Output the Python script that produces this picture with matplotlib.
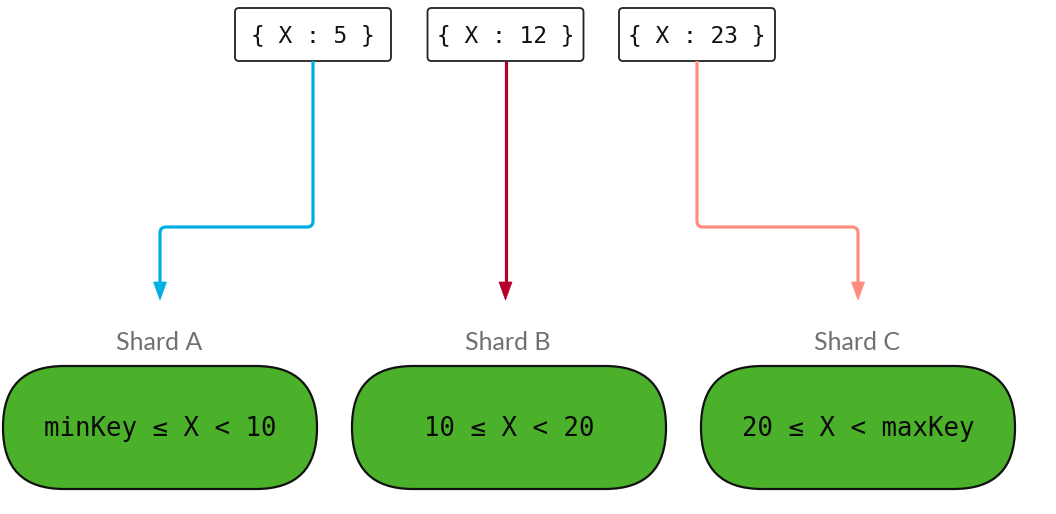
import matplotlib.pyplot as plt
from matplotlib.patches import FancyBboxPatch, Polygon, PathPatch
from matplotlib.path import Path

# Documents being routed
doc_keys = [5, 12, 23]
doc_labels = ['{ X : %d }' % k for k in doc_keys]
arrow_colors = ['#00aee6', '#b3002b', '#ff8c7e']

# Shards and their key ranges
shard_names = ['Shard A', 'Shard B', 'Shard C']
shard_ranges = ['minKey \u2264 X < 10', '10 \u2264 X < 20', '20 \u2264 X < maxKey']
target_shard = [0, 1, 2]

W, H = 1056, 514

# Layout (pixels)
box_cx = [313, 505.5, 697]
box_w, box_top, box_bot = 156, 8, 61
shard_cx = [160, 509, 858]
pill_w, pill_top, pill_bot = 314, 366, 489
elbow_y = 227
tip_y = 300
head_len, head_half = 18, 6.5
label_y = 342
corner_r = 6

fig = plt.figure(figsize=(W / 100, H / 100), dpi=100)
ax = fig.add_axes([0, 0, 1, 1])
ax.set_xlim(0, W)
ax.set_ylim(H, 0)
ax.axis('off')

# top document boxes
for cx, text in zip(box_cx, doc_labels):
    ax.add_patch(FancyBboxPatch((cx - box_w / 2, box_top), box_w, box_bot - box_top,
                                boxstyle='round,pad=0,rounding_size=4',
                                fc='white', ec='#222222', lw=1.3))
    ax.text(cx, (box_top + box_bot) / 2 + 1, text, family='DejaVu Sans Mono',
            fontsize=16.5, ha='center', va='center', color='#111111')

# routing arrows
for cx, si, col in zip(box_cx, target_shard, arrow_colors):
    tx = shard_cx[si]
    end_y = tip_y - head_len + 2
    if abs(tx - cx) < 10:
        tx = cx
        path = Path([(cx, box_bot), (cx, end_y)], [Path.MOVETO, Path.LINETO])
    else:
        d = corner_r if tx > cx else -corner_r
        verts = [(cx, box_bot), (cx, elbow_y - corner_r),
                 (cx, elbow_y), (cx + d, elbow_y),
                 (tx - d, elbow_y),
                 (tx, elbow_y), (tx, elbow_y + corner_r),
                 (tx, end_y)]
        codes = [Path.MOVETO, Path.LINETO, Path.CURVE3, Path.CURVE3, Path.LINETO,
                 Path.CURVE3, Path.CURVE3, Path.LINETO]
        path = Path(verts, codes)
    ax.add_patch(PathPatch(path, fill=False, ec=col, lw=2.3, capstyle='butt'))
    ax.add_patch(Polygon([(tx - head_half, tip_y - head_len), (tx + head_half, tip_y - head_len),
                          (tx, tip_y)], closed=True, fc=col, ec=col, lw=0.5))

# shards
for cx, name, rng in zip(shard_cx, shard_names, shard_ranges):
    ax.text(cx - 1, label_y, name, family='Lato', fontsize=18, ha='center', va='center',
            color='#707070')
    ax.add_patch(FancyBboxPatch((cx - pill_w / 2, pill_top), pill_w, pill_bot - pill_top,
                                boxstyle='round,pad=0,rounding_size=61',
                                fc='#4bb12a', ec='#111111', lw=1.6))
    ax.text(cx, (pill_top + pill_bot) / 2 + 2, rng, family='DejaVu Sans Mono',
            fontsize=18.5, ha='center', va='center', color='#0a0a0a')

fig.savefig('out.png', dpi=100, facecolor='white')
